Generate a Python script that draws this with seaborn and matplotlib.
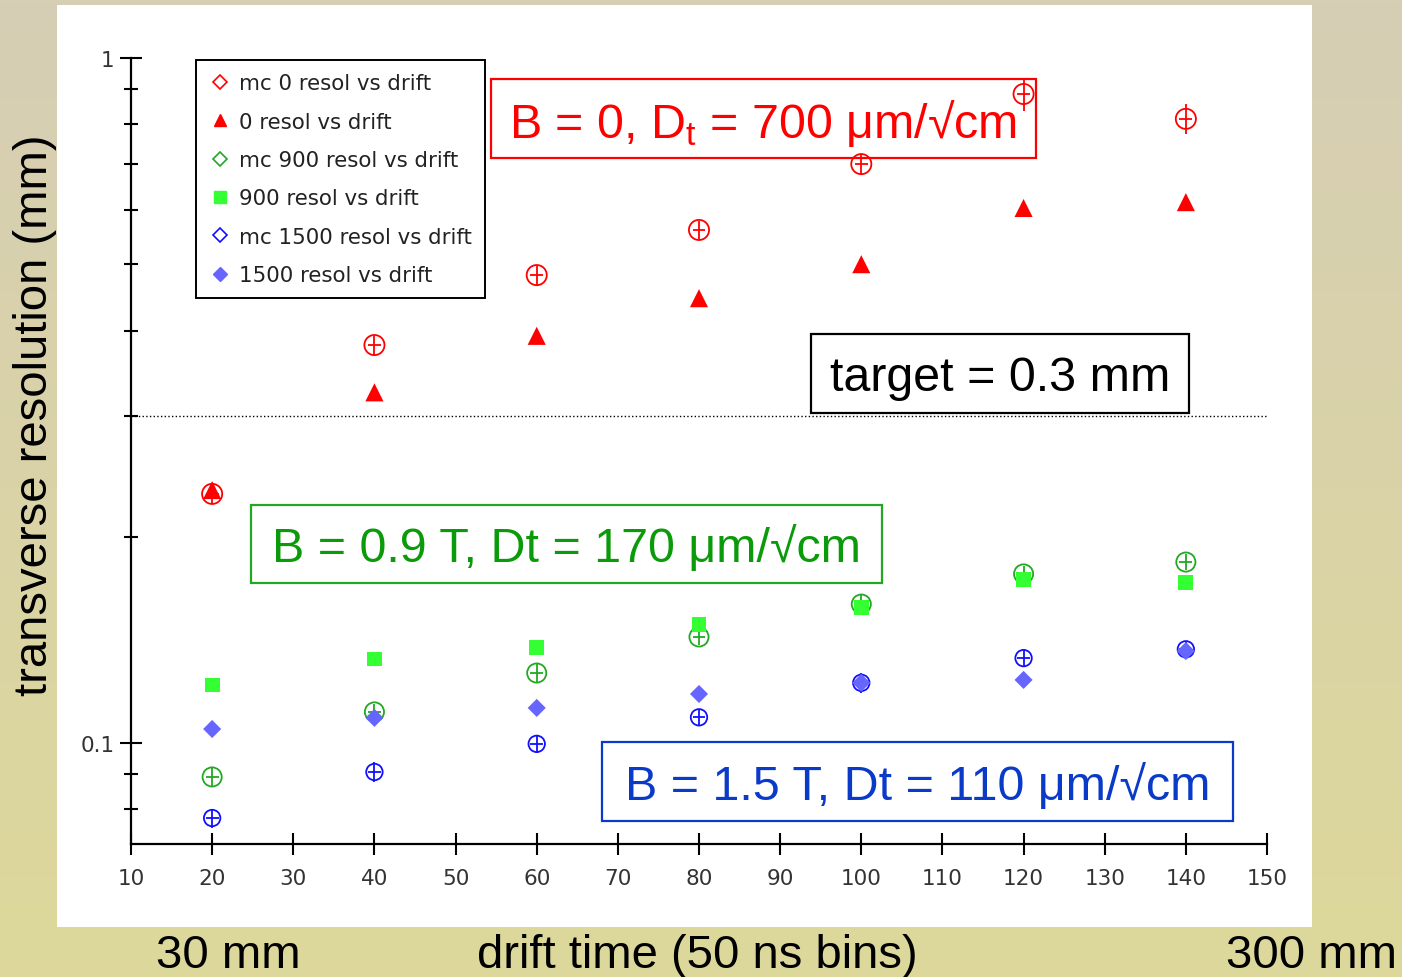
import numpy as np
import pandas as pd
import matplotlib
matplotlib.use("Agg")
import matplotlib.pyplot as plt
import seaborn as sns
from matplotlib.patches import Rectangle
from matplotlib.lines import Line2D
from matplotlib.ticker import FixedLocator, NullFormatter, FixedFormatter

# ---------------- data ----------------
drift = [20, 40, 60, 80, 100, 120, 140]

mc0_res = [0.231, 0.381, 0.482, 0.561, 0.700, 0.886, 0.815]
mc0_err = [0.008, 0.012, 0.015, 0.018, 0.025, 0.048, 0.041]
d0_res = [0.234, 0.325, 0.393, 0.446, 0.500, 0.604, 0.616]

mc900_res = [0.0892, 0.111, 0.1265, 0.1428, 0.1595, 0.1765, 0.1837]
mc900_err = [0.003, 0.003, 0.004, 0.004, 0.005, 0.005, 0.005]
d900_res = [0.1215, 0.1326, 0.138, 0.1487, 0.1575, 0.173, 0.1713]

mc1500_res = [0.0777, 0.0907, 0.0997, 0.109, 0.1224, 0.133, 0.137]
mc1500_err = [0.0025, 0.003, 0.003, 0.003, 0.004, 0.004, 0.004]
d1500_res = [0.1048, 0.1088, 0.1125, 0.1179, 0.1224, 0.1236, 0.1362]

legend_labels = ["mc 0 resol vs drift", "0 resol vs drift",
                 "mc 900 resol vs drift", "900 resol vs drift",
                 "mc 1500 resol vs drift", "1500 resol vs drift"]

x_ticks = list(range(10, 151, 10))
x_ticklabels = [str(v) for v in x_ticks]
y_major = [0.1, 1.0]
y_major_labels = ["0.1", "1"]
y_minor = [0.08, 0.09, 0.2, 0.3, 0.4, 0.5, 0.6, 0.7, 0.8, 0.9]
target = 0.3

# ---------------- style ----------------
sns.set_style("ticks")
plt.rcParams["font.family"] = ["Liberation Sans", "DejaVu Sans"]
plt.rcParams["mathtext.fontset"] = "custom"
plt.rcParams["mathtext.rm"] = "Liberation Sans"

RED = "#ff0000"
GREEN_MC = "#22a822"
GREEN_D = "#33ff33"
BLUE_MC = "#1010ff"
BLUE_D = "#6666ff"
GREEN_TXT = "#0a9a0a"
BLUE_TXT = "#0a3ac8"

fig = plt.figure(figsize=(14.02, 9.78), dpi=100)

# background gradient
bg = fig.add_axes([0, 0, 1, 1], zorder=-10)
top = np.array([214, 206, 181]) / 255.0
bot = np.array([221, 216, 154]) / 255.0
t = np.linspace(0, 1, 256)[:, None]
grad = (top[None, :] * (1 - t) + bot[None, :] * t)[:, None, :]
bg.imshow(grad, aspect="auto", extent=[0, 1, 0, 1])
bg.set_axis_off()

# white panel
fig.add_artist(Rectangle((57 / 1402, 1 - 928 / 978), 1255 / 1402, 922 / 978,
                         transform=fig.transFigure, facecolor="white",
                         edgecolor="none", zorder=-5))

ax = fig.add_axes([131 / 1402, 1 - 845 / 978, 1136 / 1402, 786 / 978])
ax.set_facecolor("none")

df = pd.DataFrame({
    "drift": drift * 6,
    "res": mc0_res + d0_res + mc900_res + d900_res + mc1500_res + d1500_res,
    "series": sum([[lab] * len(drift) for lab in legend_labels], []),
})

def sub(lab):
    return df[df["series"] == lab]

# MC series: open circles with error bars
for lab, col, err, s in [(legend_labels[0], RED, mc0_err, 210),
                         (legend_labels[2], GREEN_MC, mc900_err, 190),
                         (legend_labels[4], BLUE_MC, mc1500_err, 140)]:
    d = sub(lab)
    sns.scatterplot(data=d, x="drift", y="res", ax=ax, marker="o", s=s,
                    facecolors="none", edgecolor=col, linewidth=1.3,
                    legend=False, zorder=3)
    ax.errorbar(d["drift"], d["res"], yerr=err, xerr=0.8, fmt="none",
                ecolor=col, elinewidth=1.3, capsize=0, zorder=3)

# data series: filled markers
sns.scatterplot(data=sub(legend_labels[1]), x="drift", y="res", ax=ax,
                marker="^", s=170, color=RED, edgecolor="none",
                legend=False, zorder=4)
sns.scatterplot(data=sub(legend_labels[3]), x="drift", y="res", ax=ax,
                marker="s", s=115, color=GREEN_D, edgecolor="none",
                legend=False, zorder=4)
sns.scatterplot(data=sub(legend_labels[5]), x="drift", y="res", ax=ax,
                marker="D", s=85, color=BLUE_D, edgecolor="none",
                legend=False, zorder=4)

ax.axhline(target, color="black", linestyle=":", linewidth=1.0, zorder=1)

ax.set_yscale("log")
ax.set_xlim(10, 150)
ax.set_ylim(0.0712, 1.0)
ax.set_xlabel("")
ax.set_ylabel("")

for side in ["top", "right"]:
    ax.spines[side].set_visible(False)
for side in ["left", "bottom"]:
    ax.spines[side].set_linewidth(1.6)
    ax.spines[side].set_color("black")

ax.xaxis.set_major_locator(FixedLocator(x_ticks))
ax.xaxis.set_major_formatter(FixedFormatter(x_ticklabels))
ax.xaxis.set_minor_locator(FixedLocator([]))
ax.yaxis.set_major_locator(FixedLocator(y_major))
ax.yaxis.set_major_formatter(FixedFormatter(y_major_labels))
ax.yaxis.set_minor_locator(FixedLocator(y_minor))
ax.yaxis.set_minor_formatter(NullFormatter())

ax.tick_params(axis="x", which="major", direction="inout", length=16,
               width=1.5, color="black", pad=9, labelsize=15.5,
               labelcolor="#333333")
ax.tick_params(axis="y", which="major", direction="inout", length=16,
               width=1.5, color="black", pad=4, labelsize=15.5,
               labelcolor="#333333")
ax.tick_params(axis="y", which="minor", direction="inout", length=10,
               width=1.5, color="black")
for lbl in ax.get_xticklabels() + ax.get_yticklabels():
    lbl.set_fontfamily("DejaVu Sans")

# legend
handles = [
    Line2D([], [], linestyle="none", marker="D", markersize=7,
           markerfacecolor="none", markeredgecolor=RED, markeredgewidth=1.2),
    Line2D([], [], linestyle="none", marker="^", markersize=8,
           color=RED),
    Line2D([], [], linestyle="none", marker="D", markersize=7,
           markerfacecolor="none", markeredgecolor=GREEN_MC, markeredgewidth=1.2),
    Line2D([], [], linestyle="none", marker="s", markersize=9,
           color=GREEN_D),
    Line2D([], [], linestyle="none", marker="D", markersize=7,
           markerfacecolor="none", markeredgecolor=BLUE_MC, markeredgewidth=1.2),
    Line2D([], [], linestyle="none", marker="D", markersize=7,
           color=BLUE_D),
]
leg = ax.legend(handles, legend_labels, loc="upper left",
                bbox_to_anchor=((196 - 131) / 1136, (845 - 61) / 786),
                borderaxespad=0, frameon=True, fancybox=False,
                framealpha=1, edgecolor="black",
                prop={"family": "DejaVu Sans", "size": 15.4},
                handlelength=1.0, handletextpad=0.4, borderpad=0.62,
                labelspacing=0.86)
leg.get_frame().set_linewidth(1.4)
for txt in leg.get_texts():
    txt.set_color("#222222")

# annotation boxes (pixel positions -> axes fraction)
def px_box(x0, y0, x1, y1):
    return ((x0 - 131) / 1136, (845 - y1) / 786,
            (x1 - x0) / 1136, (y1 - y0) / 786)

boxes = [
    (px_box(491, 80, 1036, 159), RED, RED,
     r"B = 0, D$_\mathregular{t}$ = 700 μm/√cm"),
    (px_box(811, 335, 1189, 414), "black", "black", "target = 0.3 mm"),
    (px_box(251, 506, 882, 584), GREEN_MC, GREEN_TXT,
     "B = 0.9 T, Dt = 170 μm/√cm"),
    (px_box(602, 743, 1233, 822), BLUE_TXT, BLUE_TXT,
     "B = 1.5 T, Dt = 110 μm/√cm"),
]
for (bx, by, bw, bh), ec, tc, txt in boxes:
    ax.add_patch(Rectangle((bx, by), bw, bh, transform=ax.transAxes,
                           facecolor="white", edgecolor=ec, linewidth=1.6,
                           clip_on=False, zorder=2))
    ax.text(bx + bw / 2, by + bh / 2 - 4 / 786, txt, transform=ax.transAxes,
            ha="center", va="center", fontsize=34.8, color=tc,
            family="Liberation Sans", zorder=2.5)

# outer labels
fig.text(35 / 1402, 1 - 415 / 978, "transverse resolution (mm)",
         rotation=90, ha="center", va="center", fontsize=34, color="black")
fig.text(228 / 1402, 1 - 956 / 978, "30 mm", ha="center", va="center",
         fontsize=34, color="black")
fig.text(697 / 1402, 1 - 956 / 978, "drift time (50 ns bins)", ha="center",
         va="center", fontsize=34, color="black")
fig.text(1397 / 1402, 1 - 956 / 978, "300 mm", ha="right", va="center",
         fontsize=34, color="black")

fig.savefig("out.png", dpi=100)
